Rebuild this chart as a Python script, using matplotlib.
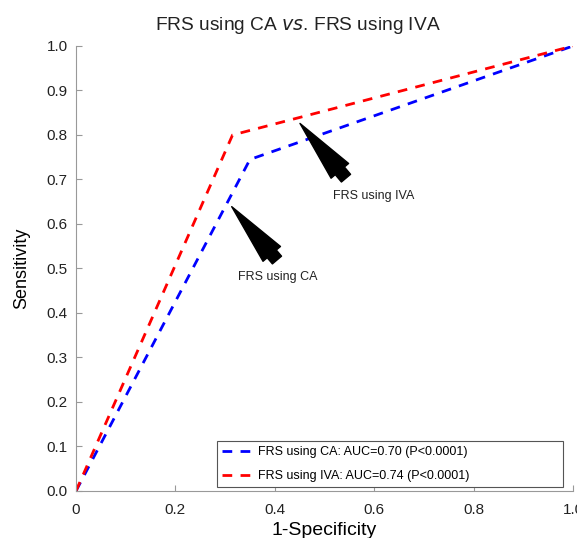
import matplotlib
matplotlib.use("Agg")
import matplotlib.pyplot as plt

plt.rcParams['font.family'] = ['Liberation Sans', 'DejaVu Sans']

ca_x = [0, 0.35, 1.0]
ca_y = [0, 0.745, 1.0]
iva_x = [0, 0.315, 1.0]
iva_y = [0, 0.80, 1.0]
ca_label = "FRS using CA: AUC=0.70 (P<0.0001)"
iva_label = "FRS using IVA: AUC=0.74 (P<0.0001)"
xticks = [0, 0.2, 0.4, 0.6, 0.8, 1.0]
xticklabels = ["0", "0.2", "0.4", "0.6", "0.8", "1.0"]
yticks = [0, 0.1, 0.2, 0.3, 0.4, 0.5, 0.6, 0.7, 0.8, 0.9, 1.0]

fig = plt.figure(figsize=(5.77, 5.38), dpi=100)
ax = fig.add_axes([0.1317, 0.0874, 0.8613, 0.8271])
ax.plot(ca_x, ca_y, color='blue', ls=(0, (3.5, 3)), lw=2, label=ca_label)
ax.plot(iva_x, iva_y, color='red', ls=(0, (3.5, 3)), lw=2, label=iva_label)
ax.set_xlim(0, 1)
ax.set_ylim(0, 1)
ax.set_xticks(xticks)
ax.set_xticklabels(xticklabels)
ax.set_yticks(yticks)
ax.set_yticklabels([f"{v:.1f}" for v in yticks])
for s in ['top', 'right']:
    ax.spines[s].set_visible(False)
for s in ['left', 'bottom']:
    ax.spines[s].set_color('#999999')
ax.tick_params(direction='in', colors='#999999', labelcolor='#222222', labelsize=11, length=4)
ax.tick_params(axis='x', pad=9)
ax.tick_params(axis='y', pad=6)
ax.set_xlabel("1-Specificity", fontsize=14, labelpad=3)
ax.set_ylabel("Sensitivity", fontsize=13, labelpad=12)
fig.text(0.517, 0.953, "FRS using CA $\\it{vs}$. FRS using IVA", fontsize=13.8,
         color='#222222', ha='center', va='center')

arrow = dict(facecolor='black', edgecolor='black', width=8.6, headwidth=16.5,
             headlength=44.6, shrink=0.0)
ax.annotate("", xy=(0.3133, 0.639), xytext=(0.4044, 0.519), arrowprops=arrow)
ax.annotate("", xy=(0.4507, 0.826), xytext=(0.5433, 0.703), arrowprops=arrow)
ax.text(0.406, 0.48, "FRS using CA", ha='center', va='center', fontsize=9, color='#222222')
ax.text(0.60, 0.663, "FRS using IVA", ha='center', va='center', fontsize=9, color='#222222')

leg = ax.legend(loc='lower left', bbox_to_anchor=(0.2837, 0.009, 0.6963, 0.1034),
                mode='expand', fontsize=9,
                handlelength=2.9, handletextpad=0.0, fancybox=False, framealpha=1,
                edgecolor='#555555', borderpad=0.4, labelspacing=0.95, borderaxespad=0)
leg.get_frame().set_linewidth(0.8)

fig.savefig("out.png", dpi=100)
